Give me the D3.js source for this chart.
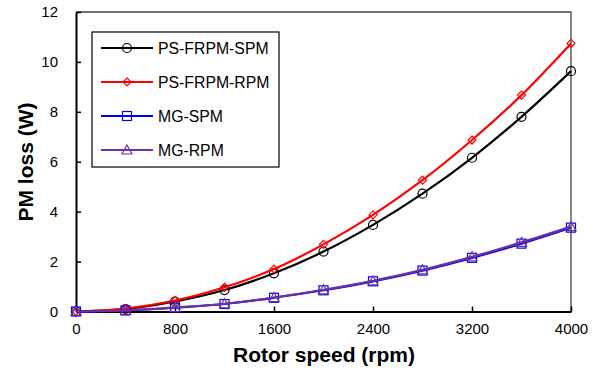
<!DOCTYPE html>
<html><head><meta charset="utf-8">
<script src="https://cdn.jsdelivr.net/npm/d3@7"></script>
<style>body{margin:0;background:#fff}svg{display:block}text{font-family:"Liberation Sans",Arial,sans-serif}</style>
</head><body>
<svg id="c" width="600" height="372"></svg>
<script>
const speeds = [0, 400, 800, 1200, 1600, 2000, 2400, 2800, 3200, 3600, 4000];
const psSpm = [0, 0.10, 0.40, 0.86, 1.53, 2.40, 3.47, 4.72, 6.16, 7.80, 9.63];
const psRpm = [0, 0.12, 0.44, 0.97, 1.70, 2.69, 3.87, 5.26, 6.87, 8.67, 10.74];
const mgSpm = [0, 0.04, 0.15, 0.30, 0.55, 0.85, 1.21, 1.64, 2.15, 2.72, 3.36];
const mgRpm = [0, 0.04, 0.16, 0.31, 0.56, 0.87, 1.23, 1.67, 2.19, 2.77, 3.40];
const seriesNames = ["PS-FRPM-SPM", "PS-FRPM-RPM", "MG-SPM", "MG-RPM"];
const xTicks = [0, 800, 1600, 2400, 3200, 4000];
const yTicks = [0, 2, 4, 6, 8, 10, 12];

const series = [
  {name: seriesNames[0], values: psSpm, color: "#000000", marker: "circle"},
  {name: seriesNames[1], values: psRpm, color: "#ff0000", marker: "diamond"},
  {name: seriesNames[2], values: mgSpm, color: "#0000ff", marker: "square"},
  {name: seriesNames[3], values: mgRpm, color: "#7030a0", marker: "triangle"}
];

const svg = d3.select("#c");
const L = 76, R = 571, T = 12, B = 311.5;
const x = d3.scaleLinear().domain([0, 4000]).range([L, R]);
const y = d3.scaleLinear().domain([0, 12]).range([B, T]);

svg.append("path").attr("d", `M${L},${T}H${R}V${B}`).attr("fill","none").attr("stroke","#444").attr("stroke-width",1.3);

const xa = svg.append("g").attr("transform", `translate(0,${B})`)
  .call(d3.axisBottom(x).tickValues(xTicks).tickFormat(d3.format("d")).tickSizeInner(-5).tickSizeOuter(0).tickPadding(12));
const ya = svg.append("g").attr("transform", `translate(${L},0)`)
  .call(d3.axisLeft(y).tickValues(yTicks).tickFormat(d3.format("d")).tickSizeInner(-5).tickSizeOuter(0).tickPadding(18));
[xa, ya].forEach(g => {
  g.select(".domain").attr("stroke","#000").attr("stroke-width",2);
  g.selectAll(".tick line").attr("stroke","#000").attr("stroke-width",1.5);
  g.selectAll(".tick text").attr("font-size",15).attr("fill","#000").style("font-family","'Liberation Sans',Arial,sans-serif");
});
xa.selectAll(".tick text").attr("dy","0.71em");

svg.append("text").attr("x", 324).attr("y", 362).attr("text-anchor","middle")
  .attr("font-size",21).attr("font-weight","bold").text("Rotor speed (rpm)");
svg.append("text").attr("transform","translate(26,162) rotate(-90)").attr("text-anchor","middle")
  .attr("dy","0.35em").attr("font-size",21).attr("font-weight","bold").text("PM loss (W)");

const line = d3.line().x((d,i) => x(speeds[i])).y(d => y(d)).curve(d3.curveCatmullRom.alpha(0.5));

function marker(g, type, cx, cy, color) {
  if (type === "circle") g.append("circle").attr("cx",cx).attr("cy",cy).attr("r",4.5).attr("fill","none").attr("stroke",color).attr("stroke-width",1.2);
  else if (type === "diamond") g.append("path").attr("d",`M${cx},${cy-4}L${cx+4},${cy}L${cx},${cy+4}L${cx-4},${cy}Z`).attr("fill","none").attr("stroke",color).attr("stroke-width",1.2);
  else if (type === "square") g.append("rect").attr("x",cx-4.5).attr("y",cy-4.5).attr("width",9).attr("height",9).attr("fill","none").attr("stroke",color).attr("stroke-width",1.2);
  else g.append("path").attr("d",`M${cx},${cy-5}L${cx+5},${cy+4}L${cx-5},${cy+4}Z`).attr("fill","none").attr("stroke",color).attr("stroke-width",1.2);
}

series.forEach(s => {
  const g = svg.append("g");
  g.append("path").attr("d", line(s.values)).attr("fill","none").attr("stroke", s.color).attr("stroke-width",2.2);
  s.values.forEach((v,i) => marker(g, s.marker, x(speeds[i]), y(v), s.color));
});

const lg = svg.append("g");
lg.append("rect").attr("x",92).attr("y",32).attr("width",187).attr("height",135).attr("fill","#fff").attr("stroke","#000").attr("stroke-width",1.2);
series.forEach((s,i) => {
  const yy = 48 + i*34;
  lg.append("line").attr("x1",101).attr("x2",153).attr("y1",yy).attr("y2",yy).attr("stroke",s.color).attr("stroke-width",2.2);
  marker(lg, s.marker, 127, yy, s.color);
  lg.append("text").attr("x",158).attr("y",yy).attr("dy","0.35em").attr("font-size",15.8).attr("fill","#000").text(s.name);
});
</script>
</body></html>
